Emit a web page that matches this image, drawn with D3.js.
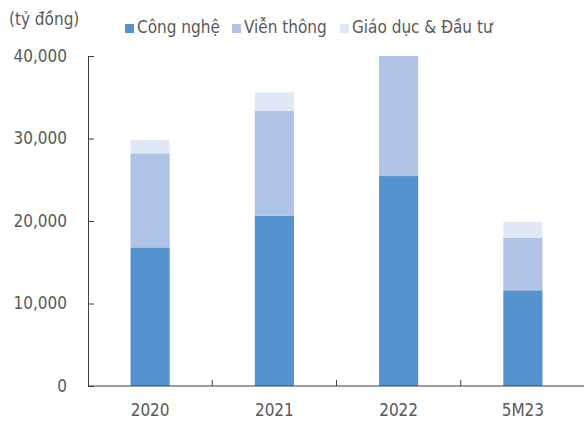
<!DOCTYPE html>
<html>
<head>
<meta charset="utf-8">
<script src="https://cdn.jsdelivr.net/npm/d3@7"></script>
<style>
  body { margin: 0; background: #fff; }
  text { font-family: "DejaVu Sans Condensed", "DejaVu Sans", sans-serif; fill: #595959; }
</style>
</head>
<body>
<script>
// categories and series (tỷ đồng)
const categories = ['2020', '2021', '2022', '5M23'];
const congNghe = [16800, 20650, 25450, 11600];
const vienThong = [11400, 12700, 14550, 6370];
const giaoDuc = [1600, 2250, 0, 1930];
const seriesNames = ['Công nghệ', 'Viễn thông', 'Giáo dục & Đầu tư'];
const yTicks = [0, 10000, 20000, 30000, 40000];

const colors = ['#5593D0', '#AEC3E5', '#E0E8F6'];

const width = 584, height = 423;
const margin = {top: 56, right: 0, bottom: 37, left: 88};

const svg = d3.select('body').append('svg')
  .attr('width', width)
  .attr('height', height);

// build rows for the stack
const rows = categories.map((c, i) => ({
  cat: c,
  s0: congNghe[i],
  s1: vienThong[i],
  s2: giaoDuc[i]
}));
const stack = d3.stack().keys(['s0', 's1', 's2'])(rows);

const x = d3.scaleBand()
  .domain(categories)
  .range([margin.left, width + 1])
  .paddingInner(0.685)
  .paddingOuter(0.3425);

const y = d3.scaleLinear()
  .domain([0, 40000])
  .range([height - margin.bottom, margin.top]);

svg.append('clipPath').attr('id', 'plot')
  .append('rect')
  .attr('x', margin.left).attr('y', margin.top)
  .attr('width', width - margin.left).attr('height', height - margin.bottom - margin.top);

// bars
svg.append('g').attr('clip-path', 'url(#plot)')
  .selectAll('g')
  .data(stack)
  .join('g')
  .attr('fill', (d, i) => colors[i])
  .selectAll('rect')
  .data(d => d)
  .join('rect')
  .attr('x', d => x(d.data.cat))
  .attr('y', d => y(d[1]))
  .attr('width', x.bandwidth())
  .attr('height', d => y(d[0]) - y(d[1]));

// y axis
const yAxis = svg.append('g')
  .attr('transform', `translate(${margin.left},0)`)
  .call(d3.axisLeft(y).tickValues(yTicks).tickFormat(d3.format(',')).tickSizeInner(-6).tickSizeOuter(0).tickPadding(21));
yAxis.select('.domain').attr('stroke', '#3f3f3f');
yAxis.selectAll('.tick line').attr('stroke', '#3f3f3f');
yAxis.selectAll('text').attr('font-size', 17).attr('fill', '#595959');

// x axis with category separators pointing up
const xAxisG = svg.append('g')
  .attr('transform', `translate(0,${y(0)})`);
xAxisG.append('line')
  .attr('x1', margin.left).attr('x2', width)
  .attr('stroke', '#3f3f3f');
const step = x.step();
const seps = categories.slice(1).map(c => x(c) - x.paddingInner() * step / 2);
xAxisG.selectAll('.sep')
  .data(seps)
  .join('line')
  .attr('x1', d => d).attr('x2', d => d)
  .attr('y1', 0).attr('y2', -6)
  .attr('stroke', '#3f3f3f');
xAxisG.selectAll('.lbl')
  .data(categories)
  .join('text')
  .attr('x', d => x(d) + x.bandwidth() / 2)
  .attr('y', 30)
  .attr('text-anchor', 'middle')
  .attr('font-size', 17)
  .text(d => d);

// unit label
svg.append('text')
  .attr('x', 9)
  .attr('y', 25)
  .attr('font-size', 17)
  .text('(tỷ đồng)');

// legend
const legendX = [125, 232, 340];
const legend = svg.append('g');
seriesNames.forEach((name, i) => {
  legend.append('rect')
    .attr('x', legendX[i]).attr('y', 24)
    .attr('width', 9).attr('height', 9)
    .attr('fill', colors[i]);
  legend.append('text')
    .attr('x', legendX[i] + 12)
    .attr('y', 33)
    .attr('font-size', 17)
    .text(name);
});
</script>
</body>
</html>
